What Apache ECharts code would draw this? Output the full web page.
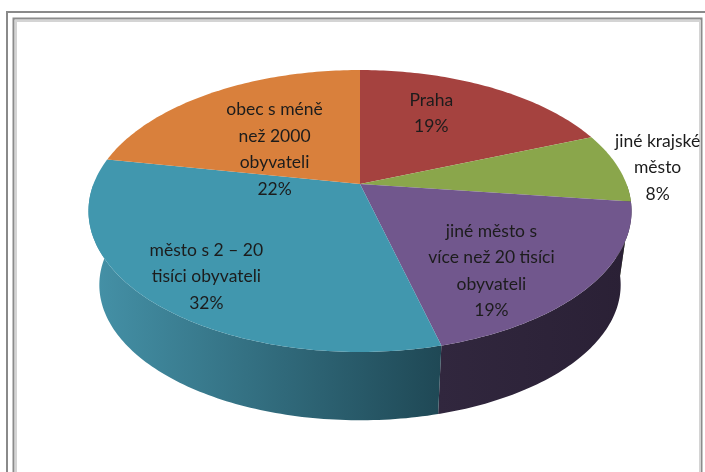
<!DOCTYPE html>
<html>
<head>
<meta charset="utf-8">
<script src="https://cdn.jsdelivr.net/npm/echarts@6/dist/echarts.min.js"></script>
<style>
html, body { margin: 0; padding: 0; background: #fff; }
#main { width: 705px; height: 472px; }
</style>
</head>
<body>
<div id="main"></div>
<script>
// kategorie (zalomení řádků jako v Excelu) a podíly v %
const categories = [
    'Praha',
    'jiné krajské\nměsto',
    'jiné město s\nvíce než 20 tisíci\nobyvateli',
    'město s 2 – 20\ntisíci obyvateli',
    'obec s méně\nnež 2000\nobyvateli'
];
const shares = [19, 8, 19, 32, 22];

// barvy horní plochy a boku
const topColors = ['#a5423f', '#8aa64b', '#71578d', '#4197ae', '#d9803c'];
const wallColors = [
    ['#7a2f2e', '#5a2221'],
    ['#66793a', '#4a5a2a'],
    ['#31273e', '#2a2035'],
    ['#4592a8', '#1f4855'],
    ['#a25f2c', '#7a4720']
];

// rozložení popisků (poloměr a posun úhlu)
const labelR = [0.65, 1.15, 0.72, 0.79, 0.43];
const labelShift = [-7, 1, 11, -3, -12];

const total = shares.reduce((a, b) => a + b, 0);
const starts = [];
shares.reduce((acc, v) => { starts.push(acc); return acc + v; }, 0);

// geometrie 3D koláče (perspektiva)
const CX = 360, CY = 184, RX = 266.5, RY = 135.8, K = 0.1916;
const BOT_CY = 259, BOT_SCALE = 0.96;

function proj(deg, r, cy, scale) {
    const t = deg * Math.PI / 180;
    const u = r * Math.sin(t), v = -r * Math.cos(t);
    const s = 1 / (1 - K * v);
    return [CX + RX * scale * u * s, cy + RY * scale * v * s];
}

function angles(api) {
    const a0 = api.value(0) / total * 360;
    const a1 = (api.value(0) + api.value(1)) / total * 360;
    return [a0, a1];
}

function arc(a0, a1, cy, scale) {
    const pts = [];
    for (let a = a0; a < a1; a += 1) pts.push(proj(a, 1, cy, scale));
    pts.push(proj(a1, 1, cy, scale));
    return pts;
}

function renderWall(params, api) {
    let [a0, a1] = angles(api);
    a0 = Math.max(a0, 90);
    a1 = Math.min(a1, 270);
    if (a1 <= a0) return { type: 'group', children: [] };
    const i = params.dataIndex;
    const pts = arc(a0, a1, CY, 1).concat(arc(a0, a1, BOT_CY, BOT_SCALE).reverse());
    return {
        type: 'polygon',
        shape: { points: pts },
        style: {
            fill: new echarts.graphic.LinearGradient(0, 0, 1, 0, [
                { offset: 0, color: wallColors[i][0] },
                { offset: 1, color: wallColors[i][1] }
            ])
        }
    };
}

function renderTop(params, api) {
    const [a0, a1] = angles(api);
    const i = params.dataIndex;
    const pts = [proj(0, 0, CY, 1)].concat(arc(a0, a1, CY, 1));
    return {
        type: 'polygon',
        shape: { points: pts },
        style: { fill: topColors[i] }
    };
}

function renderLabel(params, api) {
    const [a0, a1] = angles(api);
    const i = params.dataIndex;
    const p = proj((a0 + a1) / 2 + labelShift[i], labelR[i], CY, 1);
    const pct = Math.round(api.value(1) / total * 100);
    return {
        type: 'text',
        style: {
            text: categories[i] + '\n' + pct + '%',
            x: p[0],
            y: p[1],
            align: 'center',
            verticalAlign: 'middle',
            fill: '#1c1c1c',
            font: '17.5px Lato',
            lineHeight: 26.5
        }
    };
}

const data = shares.map((v, i) => ({ name: categories[i], value: [starts[i], v] }));

const chart = echarts.init(document.getElementById('main'));
chart.setOption({
    animation: false,
    graphic: [
        { type: 'rect', shape: { x: 7, y: 12, width: 720, height: 480 }, style: { fill: 'none', stroke: '#8a8a8a', lineWidth: 2 } },
        { type: 'rect', shape: { x: 13.5, y: 18.5, width: 688, height: 470 }, style: { fill: 'none', stroke: '#8c8c8c', lineWidth: 2 } },
        { type: 'rect', shape: { x: 16, y: 21, width: 684, height: 470 }, style: { fill: 'none', stroke: '#d4d4d4', lineWidth: 2 } }
    ],
    series: [
        { type: 'custom', coordinateSystem: 'none', renderItem: renderWall, data: data, z: 1 },
        { type: 'custom', coordinateSystem: 'none', renderItem: renderTop, data: data, z: 2 },
        { type: 'custom', coordinateSystem: 'none', renderItem: renderLabel, data: data, z: 3 }
    ]
});
</script>
</body>
</html>
